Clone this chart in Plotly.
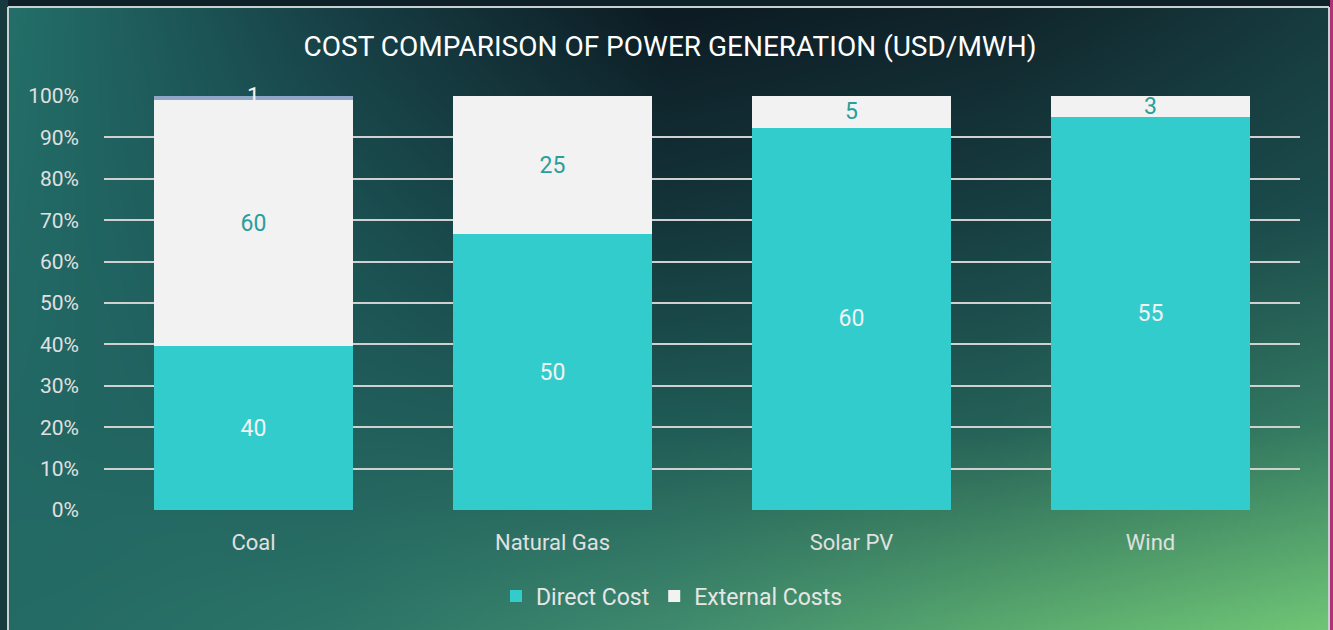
import base64, struct, zlib
import numpy as np
import plotly.graph_objects as go

# ---------------- data ----------------
categories = ["Coal", "Natural Gas", "Solar PV", "Wind"]
direct_cost = [40, 50, 60, 55]
external_costs = [60, 25, 5, 3]
other_costs = [1, 0, 0, 0]
y_ticks = [0, 0.1, 0.2, 0.3, 0.4, 0.5, 0.6, 0.7, 0.8, 0.9, 1.0]

W, H = 1333, 630
L, R, T, B = 104, 33, 96, 120
PW, PH = W - L - R, H - T - B


def px2x(px):
    return (px - L) / PW


def px2y(py):
    return (H - B - py) / PH


# ---------------- background gradient image ----------------
def hex2rgb(h):
    h = h.lstrip("#")
    return [int(h[i:i + 2], 16) for i in (0, 2, 4)]


gx = [0, 333, 666, 1000, 1333]
gy = [0, 210, 420, 630]
grid = [
    ["#24716a", "#173f45", "#0d1a22", "#10242a", "#173b3f"],
    ["#236c67", "#1b5152", "#14343a", "#173e42", "#1c4d4d"],
    ["#226864", "#215f5c", "#1f5a55", "#245f57", "#347a62"],
    ["#246a65", "#2c7568", "#3f8a6e", "#5aaa6f", "#70c676"],
]
gridc = np.array([[hex2rgb(c) for c in row] for row in grid], dtype=float)
sw, sh = W // 3, H // 3
xs = np.linspace(0, W, sw)
ys = np.linspace(0, H, sh)
rows = np.zeros((len(gy), sw, 3))
for i in range(len(gy)):
    for c in range(3):
        rows[i, :, c] = np.interp(xs, gx, gridc[i, :, c])
img = np.zeros((sh, sw, 3))
for j in range(sw):
    for c in range(3):
        img[:, j, c] = np.interp(ys, gy, rows[:, j, c])
img = np.clip(img, 0, 255).astype(np.uint8)


def to_png(a):
    h, w, _ = a.shape
    raw = b"".join(b"\x00" + a[r].tobytes() for r in range(h))

    def chunk(t, d):
        c = struct.pack(">I", len(d)) + t + d
        return c + struct.pack(">I", zlib.crc32(t + d) & 0xFFFFFFFF)

    return (b"\x89PNG\r\n\x1a\n" + chunk(b"IHDR", struct.pack(">IIBBBBB", w, h, 8, 2, 0, 0, 0))
            + chunk(b"IDAT", zlib.compress(raw, 9)) + chunk(b"IEND", b""))


bg_uri = "data:image/png;base64," + base64.b64encode(to_png(img)).decode()

# ---------------- figure ----------------
FONT = "Roboto"
fig = go.Figure()
fig.add_trace(go.Bar(
    x=categories, y=direct_cost, name="Direct Cost",
    marker=dict(color="#33cccc", line=dict(width=0)),
    text=[str(v) for v in direct_cost], textposition="inside", insidetextanchor="middle",
    textangle=0, constraintext="none",
    textfont=dict(family=FONT, size=23, color="#f2f2f2"),
))
fig.add_trace(go.Bar(
    x=categories, y=external_costs, name="External Costs",
    marker=dict(color="#f2f2f2", line=dict(width=0)),
    text=[str(v) for v in external_costs], textposition="inside", insidetextanchor="middle",
    textangle=0, constraintext="none",
    textfont=dict(family=FONT, size=23, color="#2a9e9b"),
))
fig.add_trace(go.Bar(
    x=categories, y=other_costs, name="Other", showlegend=False,
    marker=dict(color="#8ea7c6", line=dict(width=0)),
    textposition="none",
))

# label for the thin third segment (position derived from data)
annotations = []
for cat, d, e, o in zip(categories, direct_cost, external_costs, other_costs):
    if o:
        tot = d + e + o
        annotations.append(dict(x=cat, y=(d + e + o / 2) / tot, xref="x", yref="y",
                                text=str(o), showarrow=False, yanchor="middle", yshift=2,
                                font=dict(family=FONT, size=23, color="#f2f2f2")))

shapes = [
    dict(type="rect", xref="paper", yref="paper", x0=px2x(0), x1=px2x(8), y0=px2y(H), y1=px2y(0),
         fillcolor="#163a3e", line=dict(width=0), layer="below"),
    dict(type="rect", xref="paper", yref="paper", x0=px2x(8), x1=px2x(W), y0=px2y(7), y1=px2y(0),
         fillcolor="#0f2128", line=dict(width=0), layer="below"),
    dict(type="line", xref="paper", yref="paper", x0=px2x(8), x1=px2x(8), y0=px2y(H + 5), y1=px2y(7),
         line=dict(color="#c8d0d0", width=2), layer="below"),
    dict(type="line", xref="paper", yref="paper", x0=px2x(8), x1=px2x(1329), y0=px2y(7), y1=px2y(7),
         line=dict(color="#c8d0d0", width=2), layer="below"),
    dict(type="line", xref="paper", yref="paper", x0=px2x(1329), x1=px2x(1329), y0=px2y(H + 5), y1=px2y(7),
         line=dict(color="#c8d0d0", width=2), layer="below"),
    dict(type="line", xref="paper", yref="paper", x0=px2x(1331.5), x1=px2x(1331.5), y0=px2y(H + 5), y1=px2y(0),
         line=dict(color="#b0307a", width=3), layer="below"),
]

fig.update_layout(
    width=W, height=H,
    margin=dict(l=L, r=R, t=T, b=B),
    paper_bgcolor="#1b4a4c", plot_bgcolor="rgba(0,0,0,0)",
    barmode="stack", barnorm="fraction", bargap=0.333,
    images=[dict(source=bg_uri, xref="paper", yref="paper", x=px2x(0), y=px2y(0),
                 sizex=W / PW, sizey=H / PH, xanchor="left", yanchor="top",
                 sizing="stretch", layer="below")],
    shapes=shapes,
    annotations=annotations,
    title=dict(text="COST COMPARISON OF POWER GENERATION (USD/MWH)",
               font=dict(family=FONT, size=28, color="#ffffff"),
               x=670 / W, xref="container", xanchor="center",
               y=1 - 46 / H, yref="container", yanchor="middle"),
    font=dict(family=FONT, color="#d9d9d9"),
    xaxis=dict(showgrid=False, zeroline=False, showline=False, ticks="",
               tickfont=dict(family=FONT, size=22, color="#e0e0e0"), ticklabelstandoff=17),
    yaxis=dict(range=[0, 1], tickvals=y_ticks, tickformat=".0%",
               showgrid=True, gridcolor="#d0d0d0", gridwidth=2, zeroline=False, showline=False,
               ticks="", tickfont=dict(family=FONT, size=21, color="#e0e0e0"), ticklabelstandoff=24),
    legend=dict(orientation="h", x=px2x(672), xanchor="center", y=px2y(596), yanchor="middle",
                font=dict(family=FONT, size=23, color="#e6e6e6"), bgcolor="rgba(0,0,0,0)",
                traceorder="normal", itemwidth=30),
    showlegend=True,
)

fig.write_html("out.html", config={"displayModeBar": False},
               post_script="document.body.style.margin='0';document.body.style.background='#163a3e';")
